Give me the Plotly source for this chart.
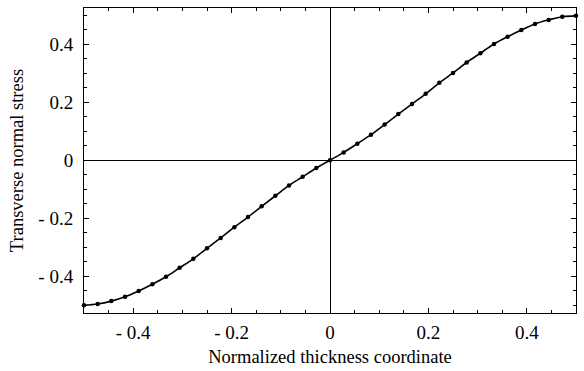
import plotly.graph_objects as go

# Normalized thickness coordinate (k/36, k=-18..18)
x_vals = [k / 36 for k in range(-18, 19)]
# Transverse normal stress
y_vals = [-0.500, -0.496, -0.486, -0.471, -0.451, -0.428, -0.402, -0.371, -0.340,
          -0.304, -0.268, -0.231, -0.196, -0.159, -0.123, -0.087, -0.057, -0.027,
          0.000,
          0.027, 0.057, 0.088, 0.123, 0.159, 0.194, 0.229, 0.267, 0.301,
          0.337, 0.369, 0.401, 0.426, 0.449, 0.470, 0.484, 0.495, 0.498]

x_ticks = [-0.4, -0.2, 0.0, 0.2, 0.4]
x_ticktext = ["- 0.4", "- 0.2", "0", "0.2", "0.4"]
y_ticks = [-0.4, -0.2, 0.0, 0.2, 0.4]
y_ticktext = ["- 0.4", "- 0.2", "0", "0.2", "0.4"]

font = "Liberation Serif"

fig = go.Figure()
fig.add_trace(go.Scatter(
    x=x_vals, y=y_vals, mode="lines+markers",
    line=dict(color="black", width=1.6, shape="spline"),
    marker=dict(color="black", size=4.5),
    showlegend=False, cliponaxis=False,
))

axis_common = dict(
    showgrid=False, zeroline=True, zerolinecolor="black", zerolinewidth=1,
    showline=True, linecolor="black", linewidth=1, mirror="ticks",
    ticks="inside", ticklen=5, tickwidth=1, tickcolor="black",
    tickfont=dict(family=font, size=19, color="black"),
    minor=dict(ticks="inside", ticklen=3, tickwidth=1, tickcolor="black",
               tickmode="linear", tick0=0, dtick=0.05),
)

fig.update_layout(
    width=584, height=371,
    margin=dict(l=84, r=7, t=7, b=56),
    paper_bgcolor="white", plot_bgcolor="white",
    xaxis=dict(range=[-0.5, 0.5], tickmode="array", tickvals=x_ticks, ticktext=x_ticktext,
               ticklabelstandoff=2,
               title=dict(text="Normalized thickness coordinate",
                          font=dict(family=font, size=18.5, color="black"), standoff=8),
               **axis_common),
    yaxis=dict(range=[-0.527, 0.525], tickmode="array", tickvals=y_ticks, ticktext=y_ticktext,
               ticklabelstandoff=6,
               title=dict(text="Transverse normal stress",
                          font=dict(family=font, size=18.5, color="black"), standoff=9),
               **axis_common),
)

fig.write_html("out.html")
